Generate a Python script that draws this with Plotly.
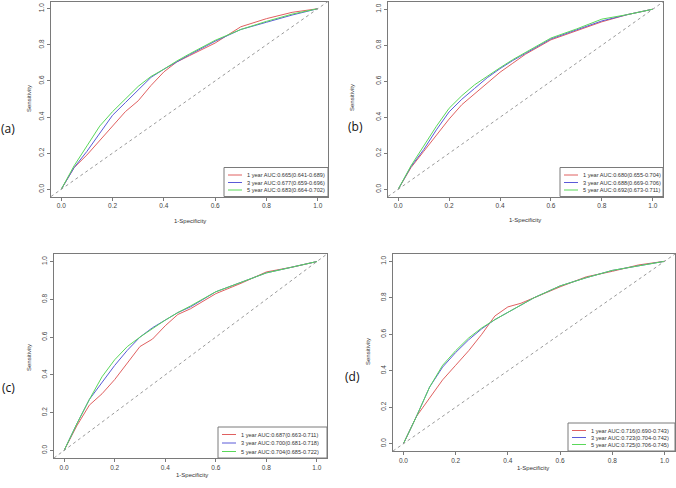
import plotly.graph_objects as go

W, H = 676, 488

FPR = [0, 0.05, 0.1, 0.15, 0.2, 0.25, 0.3, 0.35, 0.4, 0.45, 0.5, 0.6, 0.7, 0.8, 0.9, 1.0]

A_1Y = [0, 0.12, 0.19, 0.27, 0.35, 0.43, 0.49, 0.575, 0.65, 0.705, 0.74, 0.81, 0.90, 0.945, 0.98, 1]
A_3Y = [0, 0.12, 0.21, 0.31, 0.41, 0.48, 0.55, 0.62, 0.665, 0.705, 0.745, 0.82, 0.885, 0.925, 0.965, 1]
A_5Y = [0, 0.13, 0.24, 0.35, 0.43, 0.50, 0.57, 0.625, 0.665, 0.71, 0.75, 0.825, 0.885, 0.93, 0.97, 1]

B_1Y = [0, 0.12, 0.21, 0.30, 0.39, 0.47, 0.53, 0.59, 0.65, 0.70, 0.75, 0.83, 0.88, 0.93, 0.97, 1]
B_3Y = [0, 0.125, 0.22, 0.33, 0.43, 0.50, 0.56, 0.62, 0.67, 0.715, 0.755, 0.835, 0.885, 0.935, 0.97, 1]
B_5Y = [0, 0.13, 0.24, 0.35, 0.45, 0.52, 0.58, 0.63, 0.675, 0.72, 0.76, 0.84, 0.89, 0.945, 0.97, 1]

C_1Y = [0, 0.13, 0.24, 0.30, 0.375, 0.46, 0.55, 0.59, 0.66, 0.72, 0.75, 0.83, 0.885, 0.945, 0.97, 1]
C_3Y = [0, 0.14, 0.27, 0.36, 0.45, 0.53, 0.60, 0.65, 0.69, 0.73, 0.76, 0.84, 0.89, 0.94, 0.97, 1]
C_5Y = [0, 0.14, 0.27, 0.39, 0.48, 0.55, 0.60, 0.645, 0.69, 0.73, 0.765, 0.84, 0.89, 0.94, 0.97, 1]

D_1Y = [0, 0.15, 0.25, 0.35, 0.43, 0.51, 0.60, 0.70, 0.75, 0.77, 0.80, 0.86, 0.915, 0.945, 0.98, 1]
D_3Y = [0, 0.15, 0.31, 0.42, 0.50, 0.57, 0.63, 0.68, 0.72, 0.76, 0.80, 0.865, 0.91, 0.95, 0.975, 1]
D_5Y = [0, 0.15, 0.31, 0.43, 0.51, 0.58, 0.635, 0.68, 0.72, 0.76, 0.80, 0.865, 0.91, 0.95, 0.975, 1]

A_LABELS = ["1 year AUC:0.665(0.641-0.689)", "3 year AUC:0.677(0.659-0.696)", "5 year AUC:0.683(0.664-0.702)"]
B_LABELS = ["1 year AUC:0.680(0.655-0.704)", "3 year AUC:0.688(0.669-0.706)", "5 year AUC:0.692(0.673-0.711)"]
C_LABELS = ["1 year AUC:0.687(0.663-0.711)", "3 year AUC:0.700(0.681-0.718)", "5 year AUC:0.704(0.685-0.722)"]
D_LABELS = ["1 year AUC:0.716(0.690-0.743)", "3 year AUC:0.723(0.704-0.742)", "5 year AUC:0.725(0.706-0.745)"]

PANEL_TAGS = ["(a)", "(b)", "(c)", "(d)"]
TICKS = [0, 0.2, 0.4, 0.6, 0.8, 1.0]
TICK_TEXT = ["0.0", "0.2", "0.4", "0.6", "0.8", "1.0"]
COLORS = ["#e06060", "#5a5ad8", "#5ad85a"]

# layout (pixels): box left, right, top, bottom
BOXES = [(51, 328, 1.5, 196.5), (388, 663, 2, 196.5), (54, 327, 254, 458), (393, 675, 254, 451)]
LEG_W = [104, 103, 109, 107]
LEG_H = [29, 29, 31, 28]
TAG_POS = [(8, 128), (355, 126), (8, 387), (353, 376)]
YTITLE_POS = [(29, 98), (352, 98), (29, 357), (368, 352)]
XTITLE_POS = [(190, 221), (525, 220), (192, 475), (533, 468)]

panels = [
    (A_1Y, A_3Y, A_5Y, A_LABELS),
    (B_1Y, B_3Y, B_5Y, B_LABELS),
    (C_1Y, C_3Y, C_5Y, C_LABELS),
    (D_1Y, D_3Y, D_5Y, D_LABELS),
]


def px(x):
    return x / W


def py(y):
    return 1 - y / H


fig = go.Figure()
shapes = []
annotations = []
FONT = "Liberation Sans, Arial, sans-serif"
axis_col = "#7a7a7a"

for i, (s1, s3, s5, labels) in enumerate(panels):
    n = "" if i == 0 else str(i + 1)
    xa, ya = "x" + n, "y" + n
    for ys, col, lab in zip([s1, s3, s5], COLORS, labels):
        fig.add_trace(go.Scatter(x=FPR, y=ys, mode="lines", line=dict(color=col, width=1),
                                 xaxis=xa, yaxis=ya, showlegend=False, name=lab))
    l, r, t, b = BOXES[i]
    common = dict(range=[-0.04, 1.04], showgrid=False, zeroline=False, showline=True, mirror=True,
                  linecolor=axis_col, linewidth=1, ticks="outside", ticklen=3, tickcolor=axis_col,
                  tickvals=TICKS, ticktext=TICK_TEXT, tickfont=dict(family=FONT, size=6.5, color="#444"),
                  fixedrange=True)
    fig.layout["xaxis" + n] = dict(common, domain=[px(l), px(r)], anchor=ya)
    fig.layout["yaxis" + n] = dict(common, domain=[py(b), py(t)], anchor=xa, tickangle=-90)
    # diagonal reference
    shapes.append(dict(type="line", xref=xa + " domain", yref=ya + " domain", x0=0, y0=0, x1=1, y1=1,
                       line=dict(color="#9a9a9a", width=1, dash="dot")))
    # legend box (bottom-right)
    lw, lh = LEG_W[i], LEG_H[i]
    shapes.append(dict(type="rect", xref="paper", yref="paper", x0=px(r - lw), x1=px(r),
                       y0=py(b), y1=py(b - lh), line=dict(color=axis_col, width=1),
                       fillcolor="white", layer="above"))
    for k, (lab, col) in enumerate(zip(labels, COLORS)):
        yy = b - lh + 7.5 + k * (lh - 14) / 2
        shapes.append(dict(type="line", xref="paper", yref="paper", x0=px(r - lw + 4), x1=px(r - lw + 18),
                           y0=py(yy), y1=py(yy), line=dict(color=col, width=1), layer="above"))
        annotations.append(dict(text=lab, xref="paper", yref="paper", x=px(r - lw + 21), y=py(yy),
                                xanchor="left", yanchor="middle", showarrow=False,
                                font=dict(family=FONT, size=5.6, color="#333")))
    tx, ty = TAG_POS[i]
    annotations.append(dict(text=PANEL_TAGS[i], xref="paper", yref="paper", x=px(tx), y=py(ty),
                            xanchor="center", yanchor="middle", showarrow=False,
                            font=dict(family="Open Sans, sans-serif", size=12, color="#111")))
    yx, yy2 = YTITLE_POS[i]
    annotations.append(dict(text="Sensitivity", xref="paper", yref="paper", x=px(yx), y=py(yy2),
                            xanchor="center", yanchor="middle", showarrow=False, textangle=-90,
                            font=dict(family=FONT, size=6, color="#333")))
    xx, xy = XTITLE_POS[i]
    annotations.append(dict(text="1-Specificity", xref="paper", yref="paper", x=px(xx), y=py(xy),
                            xanchor="center", yanchor="middle", showarrow=False,
                            font=dict(family=FONT, size=6, color="#333")))

fig.update_layout(width=W, height=H, margin=dict(l=0, r=0, t=0, b=0), paper_bgcolor="white",
                  plot_bgcolor="white", shapes=shapes, annotations=annotations, showlegend=False)

fig.write_html("out.html")
